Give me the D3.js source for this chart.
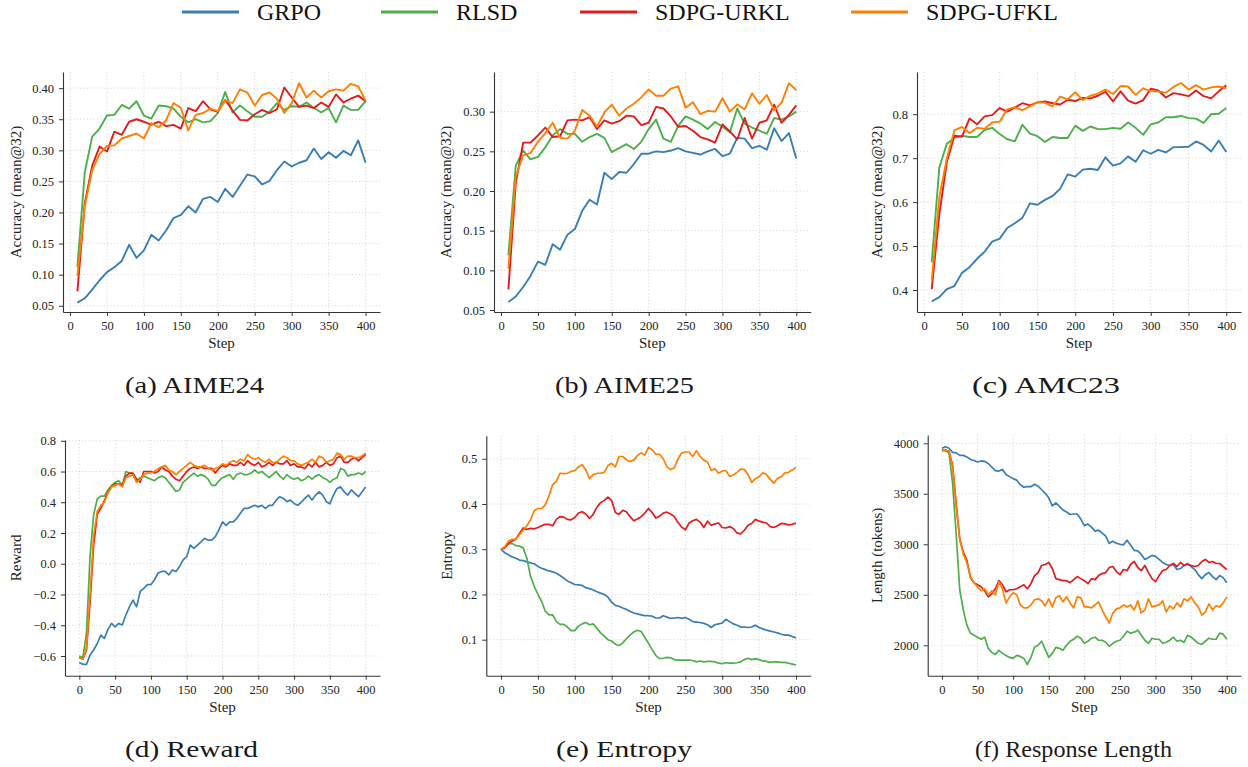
<!DOCTYPE html>
<html>
<head>
<meta charset="utf-8">
<script src="https://cdn.jsdelivr.net/npm/d3@7"></script>
<style>
  html, body { margin: 0; padding: 0; background: #fff; }
  svg { display: block; }
</style>
</head>
<body>
<svg id="chart" width="1248" height="767"></svg>
<script>
// ---------------- DATA ----------------
const seriesNames = ["GRPO", "RLSD", "SDPG-URKL", "SDPG-UFKL"];
const seriesColors = ["#377EB8", "#4DAF4A", "#E41A1C", "#FF7F00"];

const evalSteps = d3.range(10, 401, 10);   // 10..400
const trainSteps = d3.range(0, 401, 5);    // 0..400

// (a) AIME24 accuracy
const aime24_GRPO = [0.055,0.062,0.076,0.091,0.104,0.112,0.122,0.148,0.127,0.139,0.164,0.155,0.171,0.191,0.196,0.210,0.200,0.222,0.225,0.217,0.238,0.225,0.243,0.261,0.258,0.245,0.251,0.268,0.282,0.274,0.280,0.284,0.303,0.286,0.297,0.288,0.299,0.292,0.316,0.280];
const aime24_RLSD = [0.112,0.265,0.322,0.335,0.356,0.357,0.373,0.367,0.379,0.356,0.351,0.372,0.371,0.367,0.354,0.345,0.350,0.345,0.347,0.360,0.394,0.361,0.372,0.363,0.354,0.354,0.362,0.376,0.365,0.371,0.370,0.377,0.368,0.361,0.368,0.345,0.372,0.365,0.365,0.379];
const aime24_URKL = [0.073,0.215,0.275,0.306,0.298,0.330,0.325,0.346,0.350,0.346,0.341,0.346,0.339,0.341,0.335,0.368,0.363,0.379,0.366,0.362,0.381,0.364,0.349,0.348,0.358,0.365,0.360,0.366,0.401,0.385,0.370,0.372,0.368,0.377,0.370,0.390,0.377,0.383,0.388,0.379];
const aime24_UFKL = [0.098,0.210,0.268,0.294,0.307,0.308,0.319,0.323,0.327,0.319,0.344,0.337,0.348,0.376,0.368,0.332,0.357,0.360,0.367,0.363,0.380,0.376,0.398,0.393,0.372,0.389,0.393,0.383,0.360,0.376,0.408,0.385,0.396,0.385,0.395,0.398,0.396,0.407,0.403,0.380];

// (b) AIME25 accuracy
const aime25_GRPO = [0.060,0.067,0.079,0.093,0.111,0.107,0.133,0.126,0.145,0.152,0.175,0.189,0.183,0.223,0.215,0.224,0.223,0.234,0.247,0.247,0.250,0.249,0.251,0.254,0.250,0.248,0.246,0.250,0.253,0.244,0.247,0.267,0.266,0.254,0.257,0.252,0.279,0.263,0.273,0.241];
const aime25_RLSD = [0.119,0.232,0.251,0.240,0.243,0.255,0.270,0.278,0.272,0.272,0.262,0.268,0.272,0.267,0.249,0.254,0.259,0.253,0.262,0.278,0.290,0.266,0.262,0.282,0.294,0.290,0.285,0.278,0.287,0.281,0.274,0.304,0.285,0.280,0.276,0.272,0.292,0.290,0.294,0.300];
const aime25_URKL = [0.076,0.210,0.261,0.261,0.270,0.280,0.268,0.269,0.289,0.290,0.289,0.293,0.278,0.289,0.285,0.288,0.295,0.294,0.283,0.286,0.306,0.304,0.294,0.281,0.282,0.276,0.268,0.265,0.261,0.284,0.275,0.265,0.292,0.266,0.286,0.289,0.309,0.286,0.296,0.308];
const aime25_UFKL = [0.102,0.218,0.245,0.248,0.262,0.273,0.286,0.267,0.266,0.276,0.302,0.295,0.281,0.299,0.309,0.295,0.304,0.310,0.318,0.328,0.320,0.320,0.329,0.332,0.305,0.312,0.297,0.301,0.300,0.317,0.300,0.309,0.303,0.323,0.310,0.321,0.302,0.311,0.336,0.327];

// (c) AMC23 accuracy
const amc23_GRPO = [0.374,0.384,0.402,0.409,0.439,0.452,0.471,0.487,0.510,0.517,0.541,0.552,0.564,0.597,0.594,0.605,0.614,0.630,0.663,0.658,0.674,0.676,0.673,0.702,0.683,0.688,0.704,0.692,0.718,0.710,0.719,0.713,0.725,0.725,0.726,0.738,0.730,0.715,0.740,0.714];
const amc23_RLSD = [0.463,0.678,0.733,0.746,0.751,0.748,0.748,0.764,0.769,0.755,0.743,0.738,0.776,0.756,0.750,0.737,0.748,0.746,0.746,0.774,0.762,0.772,0.766,0.766,0.769,0.767,0.781,0.769,0.753,0.777,0.781,0.793,0.793,0.796,0.791,0.790,0.780,0.800,0.801,0.814];
const amc23_URKL = [0.402,0.572,0.691,0.751,0.749,0.790,0.777,0.795,0.798,0.814,0.806,0.815,0.825,0.820,0.827,0.829,0.825,0.822,0.833,0.830,0.837,0.836,0.842,0.851,0.829,0.852,0.831,0.824,0.832,0.858,0.854,0.838,0.848,0.845,0.841,0.854,0.841,0.836,0.852,0.866];
const amc23_UFKL = [0.422,0.610,0.700,0.763,0.771,0.757,0.769,0.767,0.781,0.783,0.811,0.816,0.809,0.818,0.827,0.826,0.818,0.840,0.834,0.850,0.832,0.842,0.847,0.856,0.846,0.864,0.863,0.844,0.859,0.852,0.852,0.849,0.862,0.871,0.856,0.866,0.856,0.861,0.863,0.859];

// (d) Reward
const reward_GRPO = [-0.643,-0.654,-0.654,-0.594,-0.561,-0.52,-0.464,-0.485,-0.427,-0.388,-0.41,-0.388,-0.398,-0.333,-0.28,-0.236,-0.28,-0.18,-0.16,-0.136,-0.136,-0.104,-0.06,-0.05,-0.05,-0.072,-0.04,-0.05,-0.018,0.025,0.046,0.122,0.10,0.122,0.143,0.165,0.154,0.154,0.176,0.22,0.273,0.25,0.273,0.273,0.295,0.328,0.36,0.36,0.37,0.38,0.37,0.38,0.36,0.38,0.38,0.414,0.436,0.425,0.404,0.414,0.392,0.38,0.40,0.425,0.447,0.414,0.447,0.468,0.447,0.404,0.39,0.447,0.49,0.50,0.468,0.447,0.48,0.458,0.436,0.468,0.50];
const reward_RLSD = [-0.60,-0.61,-0.45,0.05,0.32,0.42,0.44,0.44,0.48,0.51,0.53,0.54,0.51,0.60,0.59,0.58,0.54,0.56,0.57,0.56,0.55,0.54,0.56,0.57,0.56,0.53,0.50,0.47,0.48,0.53,0.55,0.57,0.59,0.57,0.58,0.57,0.55,0.51,0.51,0.54,0.56,0.57,0.58,0.55,0.58,0.59,0.58,0.58,0.59,0.61,0.59,0.60,0.58,0.56,0.58,0.60,0.57,0.55,0.58,0.56,0.55,0.56,0.54,0.55,0.57,0.55,0.57,0.58,0.56,0.55,0.53,0.55,0.56,0.62,0.61,0.57,0.58,0.58,0.59,0.58,0.60];
const reward_URKL = [-0.61,-0.62,-0.56,-0.25,0.12,0.32,0.36,0.41,0.47,0.50,0.52,0.52,0.51,0.57,0.59,0.59,0.55,0.53,0.60,0.60,0.60,0.59,0.60,0.63,0.61,0.60,0.57,0.55,0.54,0.57,0.60,0.62,0.63,0.62,0.63,0.62,0.62,0.62,0.59,0.62,0.64,0.63,0.65,0.64,0.64,0.66,0.64,0.67,0.65,0.64,0.66,0.63,0.64,0.66,0.64,0.66,0.65,0.65,0.67,0.64,0.65,0.63,0.63,0.62,0.65,0.63,0.66,0.63,0.64,0.66,0.64,0.65,0.69,0.70,0.66,0.66,0.68,0.69,0.67,0.69,0.71];
const reward_UFKL = [-0.61,-0.62,-0.55,-0.20,0.18,0.34,0.38,0.40,0.46,0.50,0.51,0.52,0.50,0.56,0.57,0.58,0.53,0.55,0.58,0.59,0.59,0.60,0.62,0.63,0.64,0.61,0.60,0.58,0.60,0.62,0.64,0.66,0.64,0.63,0.63,0.64,0.62,0.61,0.62,0.63,0.65,0.64,0.66,0.67,0.66,0.68,0.67,0.71,0.69,0.68,0.69,0.67,0.66,0.68,0.66,0.66,0.68,0.70,0.69,0.67,0.67,0.65,0.64,0.65,0.66,0.68,0.66,0.70,0.69,0.66,0.67,0.68,0.72,0.71,0.68,0.70,0.70,0.69,0.69,0.70,0.72];

// (e) Entropy
const entropy_GRPO = [0.300,0.292,0.288,0.283,0.280,0.276,0.275,0.272,0.270,0.268,0.262,0.258,0.255,0.252,0.250,0.247,0.242,0.236,0.230,0.226,0.222,0.221,0.220,0.215,0.213,0.210,0.206,0.203,0.200,0.194,0.183,0.176,0.174,0.170,0.167,0.163,0.159,0.157,0.155,0.153,0.153,0.152,0.148,0.148,0.153,0.150,0.147,0.148,0.149,0.147,0.149,0.145,0.140,0.139,0.138,0.136,0.133,0.127,0.133,0.135,0.137,0.145,0.140,0.135,0.132,0.128,0.128,0.127,0.128,0.132,0.127,0.124,0.121,0.119,0.117,0.115,0.112,0.110,0.110,0.107,0.104];
const entropy_RLSD = [0.300,0.305,0.312,0.313,0.308,0.307,0.303,0.280,0.240,0.218,0.200,0.185,0.163,0.155,0.155,0.140,0.134,0.134,0.128,0.120,0.120,0.130,0.135,0.138,0.133,0.135,0.125,0.115,0.108,0.100,0.097,0.090,0.087,0.093,0.102,0.110,0.117,0.121,0.118,0.105,0.092,0.078,0.065,0.058,0.059,0.061,0.060,0.056,0.055,0.055,0.055,0.055,0.054,0.051,0.053,0.051,0.052,0.052,0.051,0.048,0.047,0.049,0.048,0.048,0.049,0.051,0.056,0.059,0.056,0.058,0.056,0.053,0.052,0.050,0.051,0.051,0.050,0.050,0.048,0.046,0.044];
const entropy_URKL = [0.300,0.303,0.313,0.318,0.322,0.335,0.347,0.344,0.346,0.345,0.348,0.352,0.355,0.355,0.352,0.366,0.372,0.371,0.366,0.365,0.370,0.380,0.383,0.378,0.368,0.377,0.393,0.403,0.408,0.415,0.408,0.381,0.377,0.386,0.383,0.372,0.363,0.367,0.372,0.380,0.390,0.381,0.369,0.373,0.380,0.382,0.378,0.372,0.359,0.349,0.343,0.358,0.363,0.366,0.360,0.348,0.362,0.353,0.356,0.358,0.348,0.347,0.350,0.346,0.336,0.334,0.342,0.353,0.357,0.366,0.362,0.360,0.358,0.350,0.348,0.352,0.357,0.356,0.354,0.355,0.358];
const entropy_UFKL = [0.300,0.305,0.318,0.322,0.322,0.332,0.342,0.352,0.365,0.385,0.390,0.390,0.398,0.418,0.443,0.450,0.468,0.467,0.468,0.472,0.474,0.482,0.487,0.475,0.456,0.465,0.468,0.468,0.470,0.485,0.490,0.482,0.505,0.505,0.498,0.494,0.497,0.507,0.513,0.508,0.525,0.520,0.510,0.510,0.500,0.482,0.476,0.480,0.500,0.513,0.515,0.515,0.505,0.518,0.505,0.497,0.493,0.474,0.478,0.468,0.473,0.474,0.461,0.464,0.470,0.477,0.476,0.465,0.448,0.456,0.460,0.469,0.465,0.455,0.446,0.457,0.460,0.469,0.470,0.475,0.481];

// (f) Response length
const length_GRPO = [3950,3965,3950,3910,3905,3880,3880,3865,3840,3830,3815,3825,3820,3800,3765,3730,3725,3740,3690,3670,3650,3635,3590,3565,3570,3570,3595,3575,3540,3505,3460,3380,3410,3375,3340,3320,3295,3300,3300,3250,3185,3200,3170,3130,3140,3110,3080,3010,3030,3010,3000,2995,3040,2990,2940,2935,2900,2850,2870,2890,2880,2850,2820,2800,2790,2800,2750,2760,2790,2810,2780,2750,2700,2660,2700,2720,2680,2650,2690,2670,2620];
const length_RLSD = [3930,3930,3900,3600,3100,2550,2350,2200,2120,2100,2080,2060,2080,1970,1930,1910,1950,1920,1900,1880,1870,1900,1890,1870,1810,1880,1980,2000,2040,1960,1880,1920,1980,1970,1950,2000,2040,2060,2090,2070,2020,2040,2070,2080,2050,2050,2030,1990,2020,2040,2050,2090,2140,2120,2130,2150,2100,2050,2020,2070,2060,2060,2020,2030,2050,2080,2040,2050,2030,2100,2080,2050,2020,2010,2040,2070,2060,2060,2120,2110,2060];
const length_URKL = [3930,3930,3920,3780,3400,3050,2920,2840,2670,2620,2600,2580,2540,2480,2510,2560,2640,2600,2530,2550,2550,2560,2580,2600,2560,2610,2690,2720,2790,2800,2820,2760,2660,2650,2640,2640,2620,2650,2680,2660,2640,2610,2660,2650,2690,2710,2720,2770,2780,2730,2700,2750,2740,2800,2830,2770,2740,2790,2720,2660,2630,2690,2740,2750,2790,2810,2780,2820,2790,2800,2790,2780,2790,2830,2850,2820,2830,2810,2810,2780,2750];
const length_UFKL = [3930,3935,3920,3770,3380,3050,2900,2820,2680,2620,2580,2540,2560,2500,2540,2500,2630,2560,2420,2480,2520,2500,2400,2370,2370,2400,2450,2460,2440,2390,2460,2380,2470,2490,2430,2480,2420,2370,2480,2470,2380,2380,2370,2400,2430,2350,2280,2220,2320,2360,2370,2400,2380,2400,2350,2440,2320,2350,2460,2380,2390,2400,2440,2330,2390,2360,2420,2380,2460,2440,2480,2420,2380,2300,2330,2410,2350,2390,2380,2420,2480];

const xTickValues = [0, 50, 100, 150, 200, 250, 300, 350, 400];
const yTicksA = [0.05, 0.10, 0.15, 0.20, 0.25, 0.30, 0.35, 0.40];
const yTicksB = [0.05, 0.10, 0.15, 0.20, 0.25, 0.30];
const yTicksC = [0.4, 0.5, 0.6, 0.7, 0.8];
const yTicksD = [-0.6, -0.4, -0.2, 0.0, 0.2, 0.4, 0.6, 0.8];
const yTicksE = [0.1, 0.2, 0.3, 0.4, 0.5];
const yTicksF = [2000, 2500, 3000, 3500, 4000];

const captions = ["(a) AIME24", "(b) AIME25", "(c) AMC23", "(d) Reward", "(e) Entropy", "(f) Response Length"];
const yLabels = ["Accuracy (mean@32)", "Accuracy (mean@32)", "Accuracy (mean@32)", "Reward", "Entropy", "Length (tokens)"];

// ---------------- LAYOUT ----------------
const panels = [
  { steps: evalSteps, data: [aime24_GRPO, aime24_RLSD, aime24_URKL, aime24_UFKL], yTicks: yTicksA, fmt: d3.format(".2f"),
    box: {l: 63, r: 380, t: 72, b: 312}, xd: [-9.5, 419.5], yd: [0.0399, 0.426], ylx: 21, cap: {x: 125, y: 393, w: 139}, lw: 1.9 },
  { steps: evalSteps, data: [aime25_GRPO, aime25_RLSD, aime25_URKL, aime25_UFKL], yTicks: yTicksB, fmt: d3.format(".2f"),
    box: {l: 494, r: 810.7, t: 72, b: 312}, xd: [-9.5, 419.5], yd: [0.0475, 0.350], ylx: 451, cap: {x: 555, y: 393, w: 139}, lw: 1.9 },
  { steps: evalSteps, data: [amc23_GRPO, amc23_RLSD, amc23_URKL, amc23_UFKL], yTicks: yTicksC, fmt: d3.format(".1f"),
    box: {l: 917, r: 1241, t: 72, b: 312}, xd: [-9.5, 419.5], yd: [0.35, 0.896], ylx: 882, cap: {x: 972, y: 393, w: 148}, lw: 1.9 },
  { steps: trainSteps, data: [reward_GRPO, reward_RLSD, reward_URKL, reward_UFKL], yTicks: yTicksD, fmt: d3.format(".1f"),
    box: {l: 65, r: 380, t: 440, b: 675.7}, xd: [-20, 420], yd: [-0.728, 0.805], ylx: 21, cap: {x: 125, y: 757, w: 133}, lw: 1.7 },
  { steps: trainSteps, data: [entropy_GRPO, entropy_RLSD, entropy_URKL, entropy_UFKL], yTicks: yTicksE, fmt: d3.format(".1f"),
    box: {l: 486.3, r: 810.7, t: 435.7, b: 675.7}, xd: [-20, 420], yd: [0.0204, 0.551], ylx: 452, cap: {x: 556, y: 757, w: 136}, lw: 1.7 },
  { steps: trainSteps, data: [length_GRPO, length_RLSD, length_URKL, length_UFKL], yTicks: yTicksF, fmt: d3.format("d"),
    box: {l: 927.7, r: 1241, t: 435, b: 675.7}, xd: [-20, 420], yd: [1699, 4082], ylx: 882, cap: {x: 975, y: 757, w: 197}, lw: 1.7 }
];

const svg = d3.select("#chart");
const SPINE = "#333";
const SERIF = "'Liberation Serif', serif";

panels.forEach((p, i) => {
  const x = d3.scaleLinear().domain(p.xd).range([p.box.l, p.box.r]);
  const y = d3.scaleLinear().domain(p.yd).range([p.box.b, p.box.t]);
  const g = svg.append("g");

  // grid
  const grid = g.append("g");
  grid.selectAll("line.gx").data(xTickValues).join("line")
    .attr("x1", d => x(d)).attr("x2", d => x(d))
    .attr("y1", p.box.t).attr("y2", p.box.b)
    .attr("stroke", "#cfcfcf").attr("stroke-width", 0.8).attr("stroke-dasharray", "1.2,2.2");
  grid.selectAll("line.gy").data(p.yTicks).join("line")
    .attr("x1", p.box.l).attr("x2", p.box.r)
    .attr("y1", d => y(d)).attr("y2", d => y(d))
    .attr("stroke", "#cfcfcf").attr("stroke-width", 0.8).attr("stroke-dasharray", "1.2,2.2");

  // lines
  const line = d3.line().x((d, k) => x(p.steps[k])).y(d => y(d));
  p.data.forEach((arr, s) => {
    g.append("path").datum(arr)
      .attr("fill", "none")
      .attr("stroke", seriesColors[s])
      .attr("stroke-width", p.lw)
      .attr("stroke-linejoin", "round")
      .attr("d", line);
  });

  // axes
  const xAxis = d3.axisBottom(x).tickValues(xTickValues).tickSizeInner(4).tickSizeOuter(0).tickPadding(5).tickFormat(d3.format("d"));
  const gx = g.append("g").attr("transform", `translate(0,${p.box.b})`).call(xAxis);
  const yAxis = d3.axisLeft(y).tickValues(p.yTicks).tickSizeInner(4).tickSizeOuter(0).tickPadding(5).tickFormat(p.fmt);
  const gy = g.append("g").attr("transform", `translate(${p.box.l},0)`).call(yAxis);
  [gx, gy].forEach(ax => {
    ax.attr("font-family", null).attr("font-size", null);
    ax.select(".domain").attr("stroke", SPINE).attr("stroke-width", 1.1);
    ax.selectAll(".tick line").attr("stroke", SPINE).attr("stroke-width", 1);
    ax.selectAll(".tick text").attr("fill", "#222").style("font-family", SERIF).style("font-size", "12.5px");
  });

  // axis labels
  g.append("text")
    .attr("x", (p.box.l + p.box.r) / 2).attr("y", p.box.b + 36)
    .attr("text-anchor", "middle").style("font-family", SERIF).style("font-size", "15px").attr("fill", "#222")
    .text("Step");
  g.append("text")
    .attr("transform", `translate(${p.ylx},${(p.box.t + p.box.b) / 2}) rotate(-90)`)
    .attr("text-anchor", "middle").style("font-family", SERIF).style("font-size", "15px").attr("fill", "#222")
    .text(yLabels[i]);

  // sub caption
  svg.append("text")
    .attr("x", p.cap.x).attr("y", p.cap.y)
    .style("font-family", SERIF).style("font-size", "23px").attr("fill", "#1a1a1a")
    .attr("textLength", p.cap.w).attr("lengthAdjust", "spacingAndGlyphs")
    .text(captions[i]);
});

// legend
const legend = svg.append("g");
const legendX = [182, 381, 580, 851];
seriesNames.forEach((name, s) => {
  const lx = legendX[s];
  legend.append("line")
    .attr("x1", lx).attr("x2", lx + 57).attr("y1", 12).attr("y2", 12)
    .attr("stroke", seriesColors[s]).attr("stroke-width", 3);
  legend.append("text")
    .attr("x", lx + 75).attr("y", 20)
    .style("font-family", SERIF).style("font-size", "24px").attr("fill", "#111")
    .text(name);
});
</script>
</body>
</html>
